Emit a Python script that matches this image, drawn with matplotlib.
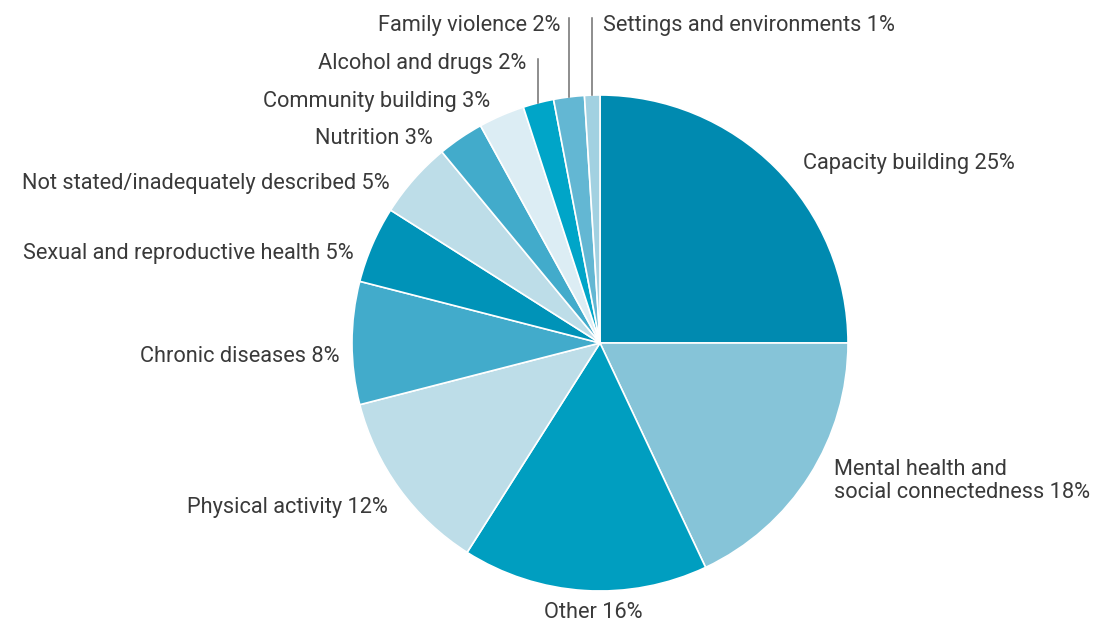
import numpy as np
import matplotlib.pyplot as plt

plt.rcParams['font.family'] = ['Roboto', 'DejaVu Sans']

# Share of activities by focus area (per cent)
labels = ['Capacity building', 'Mental health and\nsocial connectedness', 'Other',
          'Physical activity', 'Chronic diseases', 'Sexual and reproductive health',
          'Not stated/inadequately described', 'Nutrition', 'Community building',
          'Alcohol and drugs', 'Family violence', 'Settings and environments']
shares = [25, 18, 16, 12, 8, 5, 5, 3, 3, 2, 2, 1]
colors = ['#008ab0', '#86c4d8', '#009ec0', '#bddde8', '#42abcb', '#0093b8',
          '#bddde8', '#42abcb', '#dcedf4', '#00a5c8', '#63b7d3', '#a2d1e1']

W, H = 1096, 624
fig = plt.figure(figsize=(W / 100, H / 100), dpi=100)
ax = fig.add_axes([0, 0, 1, 1])

cx, cy, r = 600, H - 343, 248
wedges, _ = ax.pie(shares, colors=colors, startangle=90, counterclock=False,
                   center=(cx, cy), radius=r, frame=True,
                   wedgeprops=dict(edgecolor='white', linewidth=1.2))
ax.set_xlim(0, W)
ax.set_ylim(0, H)
ax.set_aspect('equal')
ax.axis('off')

# label anchors in pixel coordinates from the top-left corner
spots = {
    'Capacity building': (803, 164, 'left'),
    'Mental health and\nsocial connectedness': (834, 481, 'left'),
    'Other': (593, 613, 'center'),
    'Physical activity': (388, 508, 'right'),
    'Chronic diseases': (340, 357, 'right'),
    'Sexual and reproductive health': (354, 254, 'right'),
    'Not stated/inadequately described': (390, 184, 'right'),
    'Nutrition': (433, 138, 'right'),
    'Community building': (490, 102, 'right'),
    'Alcohol and drugs': (526, 64, 'right'),
    'Family violence': (560, 26, 'right'),
    'Settings and environments': (603, 26, 'left'),
}

for w, lab, val in zip(wedges, labels, shares):
    x, y, ha = spots[lab]
    ax.text(x, H - y, f'{lab} {val}%', ha=ha, va='center', fontsize=15.7,
            color='#3a3a3a', linespacing=1.15)

# vertical leader lines for the thin slices at the top
leader_tops = {'Alcohol and drugs': 59, 'Family violence': 18,
               'Settings and environments': 18}
for w, lab in zip(wedges, labels):
    if lab in leader_tops:
        mid = np.deg2rad((w.theta1 + w.theta2) / 2)
        x0 = cx + r * np.cos(mid)
        y0 = cy + r * np.sin(mid)
        ax.plot([x0, x0], [y0, H - leader_tops[lab]], color='#6f6f6f', lw=1.1)

fig.savefig('out.png', dpi=100, facecolor='white')
